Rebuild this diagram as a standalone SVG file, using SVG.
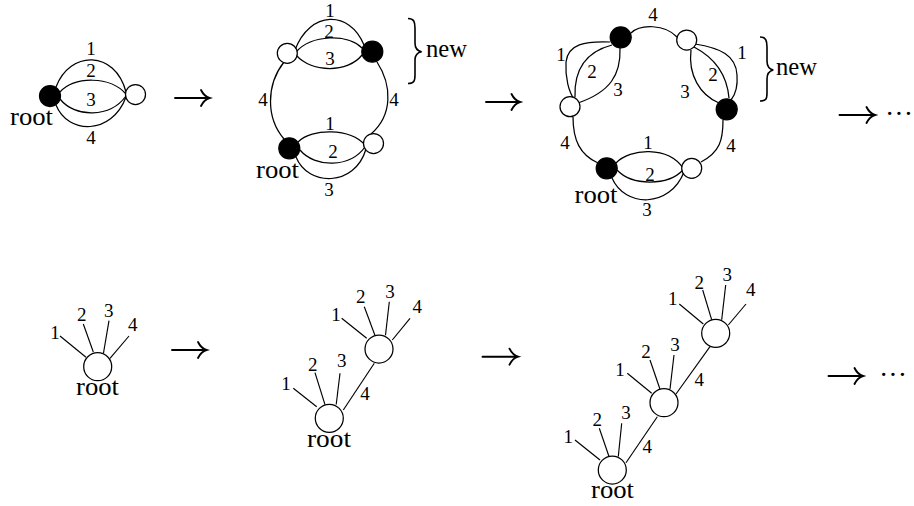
<svg xmlns="http://www.w3.org/2000/svg" width="914" height="506" viewBox="0 0 914 506">
<defs>
<style>
.bg{fill:#fff}
.e{fill:none;stroke:#000;stroke-width:1.25}
.wn{fill:#fff;stroke:#000;stroke-width:1.25}
.bn{fill:#000;stroke:#000;stroke-width:1.25}
.t{fill:none;stroke:#000;stroke-width:1.15}
.lb{font-family:"Liberation Serif","Times New Roman",serif;font-size:19px;fill:#000;text-anchor:middle}
.rt{font-family:"Liberation Serif","Times New Roman",serif;font-size:25px;fill:#000}
.ar{fill:none;stroke:#000;stroke-width:1.9;stroke-linecap:round}
.br{fill:none;stroke:#000;stroke-width:1.6}
.dots{font-family:"Liberation Serif","Times New Roman",serif;font-size:28px;fill:#000;text-anchor:end}
</style>
</defs>
<rect class="bg" x="0" y="0" width="914" height="506"/>

<g id="connectors">
  <!-- panel 1 top -->
  <path class="e" d="M56,87 C70,50 115,50 126,92"/>
  <path class="e" d="M60,92 C75,76 110,76 126,94"/>
  <path class="e" d="M60,99 C75,118 110,118 126,96"/>
  <path class="e" d="M56,105 C68,135 112,135 126,97"/>
  <!-- panel 2 top -->
  <path class="e" d="M295,50 C310,10 350,10 364,45"/>
  <path class="e" d="M296,52 C312,34 348,34 362,48"/>
  <path class="e" d="M296,55 C312,73 348,73 362,55"/>
  <path class="e" d="M284,62 C266,85 266,118 284,139"/>
  <path class="e" d="M377,62 C392,85 393,115 371,134"/>
  <path class="e" d="M298,142 C312,128 350,128 365,145"/>
  <path class="e" d="M300,150 C315,168 350,168 365,147"/>
  <path class="e" d="M296,157 C308,187 355,187 366,149"/>
  <!-- panel 3 top -->
  <path class="e" d="M631,33 C640,24 665,24 677,37"/>
  <path class="e" d="M723,120 C723,140 720,152 701,162"/>
  <path class="e" d="M573,117 C573,140 580,155 598,163"/>
  <path class="e" d="M616,163 C630,148 668,146 683,168"/>
  <path class="e" d="M617,170 C632,186 668,186 683,170"/>
  <path class="e" d="M612,178 C625,208 670,208 684,172"/>
  <path class="e" d="M610,42 C585,41 568,44 566,62 C565,78 569,92 574,99"/>
  <path class="e" d="M612,45 C585,52 574,70 575,97"/>
  <path class="e" d="M620,48 C621,75 610,92 578,103"/>
  <path class="e" d="M695,44 C720,48 736,55 737,75 C738,88 735,95 731,100"/>
  <path class="e" d="M694,47 C715,58 727,75 729,98"/>
  <path class="e" d="M691,50 C688,75 700,95 719,103"/>
  <!-- bottom panel 1 -->
  <line class="t" x1="60" y1="336" x2="86" y2="357.3"/>
  <line class="t" x1="83.3" y1="324" x2="93.3" y2="352"/>
  <line class="t" x1="109" y1="320.7" x2="103.5" y2="353"/>
  <line class="t" x1="129" y1="336" x2="110" y2="358.3"/>
  <!-- bottom panel 2 -->
  <line class="t" x1="293.3" y1="388.3" x2="316.7" y2="406.7"/>
  <line class="t" x1="315" y1="372.7" x2="325" y2="404.7"/>
  <line class="t" x1="340" y1="373.3" x2="336.2" y2="404.5"/>
  <line class="t" x1="343.3" y1="410" x2="374.3" y2="363.3"/>
  <line class="t" x1="341.7" y1="318.3" x2="366.7" y2="338.3"/>
  <line class="t" x1="364.3" y1="306.7" x2="375" y2="335.5"/>
  <line class="t" x1="389.3" y1="301.7" x2="385.5" y2="335.3"/>
  <line class="t" x1="410" y1="318.3" x2="392.3" y2="340"/>
  <!-- bottom panel 3 -->
  <line class="t" x1="575" y1="440" x2="600" y2="460"/>
  <line class="t" x1="599.3" y1="428.3" x2="609" y2="456.5"/>
  <line class="t" x1="621.7" y1="423.3" x2="618.3" y2="456.5"/>
  <line class="t" x1="626" y1="462.7" x2="657.3" y2="416.7"/>
  <line class="t" x1="627.3" y1="373.3" x2="651.7" y2="393.3"/>
  <line class="t" x1="650" y1="360" x2="660" y2="389.3"/>
  <line class="t" x1="674" y1="355" x2="670" y2="389"/>
  <line class="t" x1="676" y1="394" x2="710" y2="346.7"/>
  <line class="t" x1="679.3" y1="304" x2="703.3" y2="324"/>
  <line class="t" x1="702.7" y1="290" x2="711.7" y2="319.8"/>
  <line class="t" x1="725.7" y1="285" x2="721.7" y2="319.8"/>
  <line class="t" x1="746" y1="304" x2="728.3" y2="325"/>
</g>

<g id="edge-labels">
  <text class="lb" x="91" y="55">1</text>
  <text class="lb" x="91" y="77">2</text>
  <text class="lb" x="91" y="106">3</text>
  <text class="lb" x="91" y="144">4</text>

  <text class="lb" x="330" y="17">1</text>
  <text class="lb" x="329" y="38">2</text>
  <text class="lb" x="330" y="65">3</text>
  <text class="lb" x="263" y="106">4</text>
  <text class="lb" x="394" y="106">4</text>
  <text class="lb" x="330" y="130">1</text>
  <text class="lb" x="333" y="158">2</text>
  <text class="lb" x="329" y="196">3</text>

  <text class="lb" x="653" y="21">4</text>
  <text class="lb" x="561" y="61">1</text>
  <text class="lb" x="592" y="78">2</text>
  <text class="lb" x="618" y="96">3</text>
  <text class="lb" x="742" y="59">1</text>
  <text class="lb" x="713" y="81">2</text>
  <text class="lb" x="685" y="98">3</text>
  <text class="lb" x="565" y="149">4</text>
  <text class="lb" x="731" y="152">4</text>
  <text class="lb" x="648" y="149">1</text>
  <text class="lb" x="650" y="181">2</text>
  <text class="lb" x="647" y="216">3</text>

  <text class="lb" x="55" y="339">1</text>
  <text class="lb" x="81.7" y="321">2</text>
  <text class="lb" x="108.7" y="316.5">3</text>
  <text class="lb" x="132.8" y="331">4</text>

  <text class="lb" x="286" y="389.5">1</text>
  <text class="lb" x="312.7" y="371">2</text>
  <text class="lb" x="341.7" y="367">3</text>
  <text class="lb" x="365" y="399.5">4</text>
  <text class="lb" x="336" y="321">1</text>
  <text class="lb" x="360.7" y="303">2</text>
  <text class="lb" x="390" y="298">3</text>
  <text class="lb" x="417.3" y="313">4</text>

  <text class="lb" x="568.3" y="443">1</text>
  <text class="lb" x="597.3" y="425.5">2</text>
  <text class="lb" x="626" y="419">3</text>
  <text class="lb" x="647.3" y="453">4</text>
  <text class="lb" x="620" y="375.5">1</text>
  <text class="lb" x="646" y="358">2</text>
  <text class="lb" x="675" y="351">3</text>
  <text class="lb" x="699.3" y="386">4</text>
  <text class="lb" x="672.7" y="304.5">1</text>
  <text class="lb" x="699.3" y="289">2</text>
  <text class="lb" x="727.3" y="281">3</text>
  <text class="lb" x="750.7" y="296">4</text>
</g>

<!-- top row nodes -->
<g id="p1-root"><circle class="bn" cx="50" cy="96" r="10.5"/><text class="rt" x="10" y="125" textLength="43" lengthAdjust="spacingAndGlyphs">root</text></g>
<g id="p1-w"><circle class="wn" cx="135.5" cy="94.5" r="10"/></g>

<g id="p2-tw"><circle class="wn" cx="287.3" cy="53.3" r="10"/></g>
<g id="p2-tb"><circle class="bn" cx="372.3" cy="51.7" r="10.5"/></g>
<g id="p2-root"><circle class="bn" cx="289.3" cy="148.3" r="10.5"/><text class="rt" x="256" y="178" textLength="43" lengthAdjust="spacingAndGlyphs">root</text></g>
<g id="p2-bw"><circle class="wn" cx="373.5" cy="143.5" r="10"/></g>
<g id="p2-new"><path class="br" d="M408,18.5 C414,18.5 415,22 415,28 L415,43 C415,48 417,51 421.7,51.7 C417,52.5 415,55 415,60 L415,75 C415,81 414,83.5 408,83.5"/><text class="rt" x="426" y="57" textLength="41" lengthAdjust="spacingAndGlyphs">new</text></g>

<g id="p3-b1"><circle class="bn" cx="620.7" cy="37.3" r="10.5"/></g>
<g id="p3-w1"><circle class="wn" cx="686.7" cy="40" r="10"/></g>
<g id="p3-b2"><circle class="bn" cx="726.7" cy="109.3" r="10.5"/></g>
<g id="p3-w2"><circle class="wn" cx="691.7" cy="168.3" r="10"/></g>
<g id="p3-root"><circle class="bn" cx="606.7" cy="168.3" r="10.5"/><text class="rt" x="574.5" y="203" textLength="43" lengthAdjust="spacingAndGlyphs">root</text></g>
<g id="p3-w3"><circle class="wn" cx="570" cy="106.7" r="10"/></g>
<g id="p3-new"><path class="br" d="M760,37 C766,37 767,41 767,47 L767,61 C767,66 769,69 773.3,70 C769,71 767,74 767,79 L767,93 C767,99 766,101 760,101"/><text class="rt" x="776" y="75" textLength="41" lengthAdjust="spacingAndGlyphs">new</text></g>

<!-- bottom row nodes -->
<g id="t1-root"><circle class="wn" cx="97.7" cy="366.7" r="14"/><text class="rt" x="76" y="395" textLength="43" lengthAdjust="spacingAndGlyphs">root</text></g>
<g id="t2-root"><circle class="wn" cx="329.3" cy="418.3" r="14"/><text class="rt" x="307" y="446.7" textLength="44" lengthAdjust="spacingAndGlyphs">root</text></g>
<g id="t2-n"><circle class="wn" cx="379" cy="349" r="14"/></g>
<g id="t3-root"><circle class="wn" cx="612.3" cy="470" r="14"/><text class="rt" x="591" y="498.3" textLength="43" lengthAdjust="spacingAndGlyphs">root</text></g>
<g id="t3-m"><circle class="wn" cx="664" cy="402.7" r="14"/></g>
<g id="t3-t"><circle class="wn" cx="715.7" cy="333.3" r="14"/></g>

<g id="arrows">
  <path class="ar" d="M175,98 H209.5 M201,90 C203,94 206,97 209.5,98 C206,99 203,102 201,106"/>
  <path class="ar" d="M486,102 H520 M511.5,94 C513.5,98 516.5,101 520,102 C516.5,103 513.5,106 511.5,110"/>
  <path class="ar" d="M172,350 H206.5 M198,342 C200,346 203,349 206.5,350 C203,351 200,354 198,358"/>
  <path class="ar" d="M482.5,356.7 H518 M509.5,348.7 C511.5,352.7 514.5,355.7 518,356.7 C514.5,357.7 511.5,360.7 509.5,364.7"/>
  <path class="ar" d="M839.5,115 H875 M866.5,107 C868.5,111 871.5,114 875,115 C871.5,116 868.5,119 866.5,123"/>
  <path class="ar" d="M828.5,376 H863 M854.5,368 C856.5,372 859.5,375 863,376 C859.5,377 856.5,380 854.5,384"/>
  <text class="dots" x="913" y="123">···</text>
  <text class="dots" x="907" y="384">···</text>
</g>
</svg>
